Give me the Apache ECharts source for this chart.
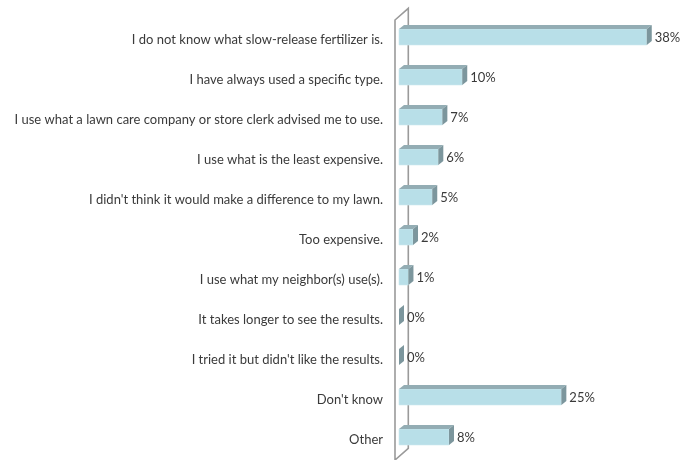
<!DOCTYPE html>
<html>
<head>
<meta charset="utf-8">
<script src="https://cdn.jsdelivr.net/npm/echarts@6/dist/echarts.min.js"></script>
<style>html,body{margin:0;padding:0;background:#fff}#c{width:694px;height:460px}</style>
</head>
<body>
<div id="c"></div>
<script>
const categories = [
  "I do not know what slow-release fertilizer is.",
  "I have always used a specific type.",
  "I use what a lawn care company or store clerk advised me to use.",
  "I use what is the least expensive.",
  "I didn't think it would make a difference to my lawn.",
  "Too expensive.",
  "I use what my neighbor(s) use(s).",
  "It takes longer to see the results.",
  "I tried it but didn't like the results.",
  "Don't know",
  "Other"
];
const values = [38, 9.7, 6.65, 6.03, 5.1, 2.15, 1.45, 0, 0, 24.9, 7.67];

const FONT = 'Lato';
const TXT = '#3a3a3a';
const FRONT = '#b8dfe8', TOP = '#93adb4', SIDE = '#7c969d';
const DX = 5, DY = 4;

const chart = echarts.init(document.getElementById('c'), null, {renderer: 'canvas'});
chart.setOption({
  animation: false,
  grid: {left: 399, top: 20, width: 260.8, height: 442},
  xAxis: {type: 'value', min: 0, max: 40, show: false},
  yAxis: {
    type: 'category', inverse: true, data: categories,
    axisLine: {show: false}, axisTick: {show: false}, splitLine: {show: false},
    axisLabel: {margin: 16, fontSize: 13, fontFamily: FONT, color: TXT}
  },
  series: [
    {
      type: 'custom', z: 1, silent: true,
      data: [[0]],
      renderItem: function (params, api) {
        const cs = params.coordSys;
        const fx = cs.x - 4, top = cs.y, bot = cs.y + cs.height;
        const bx = fx + 13.3, bdy = 11.7;
        return {
          type: 'polyline',
          shape: {points: [[fx, bot + 2], [fx, top], [bx, top - bdy], [bx, bot - bdy], [fx, bot]]},
          style: {stroke: '#9a9a9a', lineWidth: 1.6, fill: null}
        };
      }
    },
    {
      type: 'custom', z: 2, silent: true,
      encode: {x: 1, y: 0},
      data: values.map((v, i) => [i, v]),
      renderItem: function (params, api) {
        const ci = api.value(0), v = api.value(1);
        const p0 = api.coord([0, ci]), p1 = api.coord([v, ci]);
        const x0 = p0[0], x1 = p1[0], cy = p0[1];
        const yt = cy - 11, yb = cy + 5;
        const children = [];
        if (x1 - x0 > 0.1) {
          children.push({type: 'rect', shape: {x: x0, y: yt, width: x1 - x0, height: yb - yt},
            style: {fill: FRONT, stroke: '#cfe9ef', lineWidth: 0.6}});
          children.push({type: 'polygon', shape: {points: [[x0, yt], [x0 + DX, yt - DY], [x1 + DX, yt - DY], [x1, yt]]},
            style: {fill: TOP}});
        }
        children.push({type: 'polygon', shape: {points: [[x1, yt], [x1 + DX, yt - DY], [x1 + DX, yb - DY], [x1, yb]]},
          style: {fill: SIDE}});
        children.push({type: 'text', x: x1 + DX + 3, y: cy - 2,
          style: {text: Math.round(v) + '%', fontSize: 13, fontFamily: FONT, fill: TXT,
            verticalAlign: 'middle', align: 'left'}});
        return {type: 'group', children: children};
      }
    }
  ]
});
</script>
</body>
</html>
